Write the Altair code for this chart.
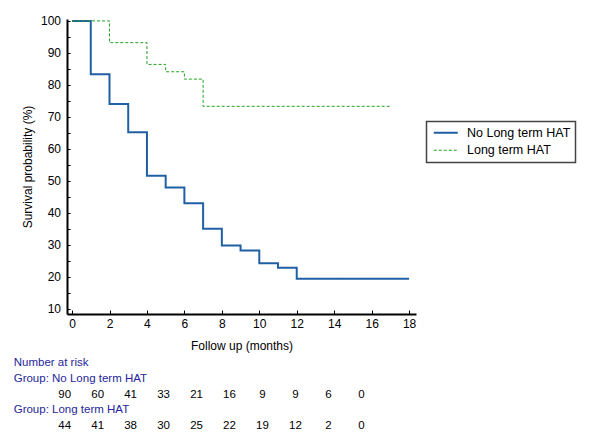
import altair as alt
import pandas as pd

FONT = "Liberation Sans"

groups = ["No Long term HAT", "Long term HAT"]

# Kaplan-Meier curves
no_times = [0, 1, 2, 3, 4, 5, 6, 7, 8, 9, 10, 11, 12, 18]
no_surv = [100, 83.3, 74.0, 65.2, 51.6, 47.9, 43.0, 35.0, 29.8, 28.2, 24.2, 22.8, 19.4, 19.4]
lt_times = [0, 2, 4, 5, 6, 7, 17]
lt_surv = [100, 93.2, 86.4, 84.1, 81.8, 73.3, 73.3]

# Number-at-risk table
risk_times = [0, 2, 4, 6, 8, 10, 12, 14, 16, 18]
risk_no = [90, 60, 41, 33, 21, 16, 9, 9, 6, 0]
risk_lt = [44, 41, 38, 30, 25, 22, 19, 12, 2, 0]
risk_labels = ["Number at risk", "Group: No Long term HAT", "Group: Long term HAT"]
risk_label_rows = [0, 1, 3]
risk_num_rows = [2, 4]

x_ticks = list(range(0, 19, 2))
y_ticks = list(range(10, 101, 5))

curves = pd.DataFrame({
    "group": [groups[0]] * len(no_times) + [groups[1]] * len(lt_times),
    "time": no_times + lt_times,
    "surv": no_surv + lt_surv,
})

risk_df = pd.DataFrame({
    "time": risk_times + risk_times,
    "n": risk_no + risk_lt,
    "row": [risk_num_rows[0]] * len(risk_times) + [risk_num_rows[1]] * len(risk_times),
})
lab_df = pd.DataFrame({"label": risk_labels, "row": risk_label_rows})

NBSP = "\u00a0"
leg = alt.Legend(
    title=None, orient="none", legendX=359.5, legendY=102.5,
    padding=5, strokeColor="#444444", fillColor="white",
    labelFont=FONT, labelFontSize=12.5, labelColor="black",
    symbolType="M-1,0H5", symbolSize=64, labelOffset=23, rowPadding=4.5,
    labelExpr="datum.label + '" + NBSP * 2 + "'",
)

lines = alt.Chart(curves).mark_line(interpolate="step-after").encode(
    x=alt.X("time:Q",
            scale=alt.Scale(domain=[-0.27, 18.37], nice=False, zero=False),
            axis=alt.Axis(values=x_ticks, title="Follow up (months)",
                          tickSize={"expr": "-4"}, labelPadding=8,
                          titleY=31, titleBaseline="middle")),
    y=alt.Y("surv:Q",
            scale=alt.Scale(domain=[8.35, 100.6], nice=False, zero=False),
            axis=alt.Axis(values=y_ticks, title="Survival probability (%)",
                          labelExpr="datum.value % 10 == 0 ? datum.label : ''",
                          tickSize={"expr": "-3"}, labelPadding=9.5,
                          titleX=-40, titleY=147.5, titleAngle=270,
                          titleBaseline="middle", titleAlign="center")),
    color=alt.Color("group:N", scale=alt.Scale(domain=groups, range=["#1f5fa5", "#22a022"]), legend=leg),
    strokeDash=alt.StrokeDash("group:N", scale=alt.Scale(domain=groups, range=[[1, 0], [3, 2]]), legend=leg),
    strokeWidth=alt.StrokeWidth("group:N", scale=alt.Scale(domain=groups, range=[2, 1]), legend=leg),
    order="time:Q",
)

row_scale = alt.Scale(domain=[0, 4], range=[344.3, 407], nice=False, zero=False)

nums = alt.Chart(risk_df).mark_text(
    font=FONT, fontSize=11.5, color="black", align="center", baseline="middle"
).encode(
    x=alt.X("time:Q", scale=alt.Scale(domain=[0.1396, 21.317], nice=False, zero=False), axis=None),
    y=alt.Y("row:Q", scale=row_scale, axis=None),
    text="n:Q",
)

labs = alt.Chart(lab_df).mark_text(
    font=FONT, fontSize=11.5, color="#26269a", align="left", baseline="middle"
).encode(
    x=alt.value(-53.3),
    y=alt.Y("row:Q", scale=row_scale, axis=None),
    text="label:N",
)

chart = alt.layer(lines, nums, labs).resolve_scale(
    x="independent", y="independent"
).properties(
    width=349, height=295,
    autosize=alt.AutoSizeParams(type="none"),
    padding={"left": 59, "top": 11, "right": 167, "bottom": 120},
).configure_view(stroke=None).configure_axis(
    grid=False, domainColor="black", domainWidth=2, tickColor="black", tickWidth=1,
    labelFont=FONT, labelFontSize=12, labelColor="black",
    titleFont=FONT, titleFontSize=12, titleColor="black", titleFontWeight="normal",
).configure_legend(strokeWidth=1.5)

chart.save("out.html", embed_options={"renderer": "svg", "actions": False})
